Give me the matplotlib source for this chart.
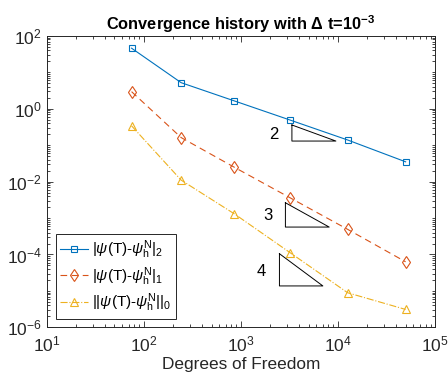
import matplotlib
matplotlib.use("Agg")
import matplotlib.pyplot as plt
from matplotlib.ticker import LogLocator, NullFormatter

plt.rcParams["font.family"] = ["Liberation Sans", "DejaVu Sans"]
plt.rcParams["mathtext.fontset"] = "custom"
plt.rcParams["mathtext.rm"] = "Liberation Sans"
plt.rcParams["mathtext.it"] = "Liberation Sans:italic"
plt.rcParams["mathtext.bf"] = "Liberation Sans:bold"

# data
dof = [75, 243, 860, 3220, 12600, 49800]
err_l2 = [46, 5.2, 1.64, 0.49, 0.139, 0.035]
err_h1 = [2.95, 0.162, 0.0247, 0.0036, 4.9e-4, 6.3e-5]
err_h0 = [0.34, 0.011, 0.0013, 1.12e-4, 8.9e-6, 3.1e-6]
labels = [
    r"$|\psi$(T)-$\psi_\mathrm{h}^\mathrm{N}|_2$",
    r"$|\psi$(T)-$\psi_\mathrm{h}^\mathrm{N}|_1$",
    r"$||\psi$(T)-$\psi_\mathrm{h}^\mathrm{N}||_0$",
]
colors = ["#0072BD", "#D95319", "#EDB120"]

# slope triangles: (x_left, x_right, y_top, y_bottom, label, label_x, label_y)
triangles = [
    (3360, 9530, 0.359, 0.130, "2", 2200, 0.20),
    (2880, 8130, 2.63e-3, 5.66e-4, "3", 1900, 1.15e-3),
    (2500, 7000, 1.05e-4, 1.37e-5, "4", 1620, 3.5e-5),
]

fig = plt.figure(figsize=(4.48, 3.78), dpi=100)
ax = fig.add_axes([0.104, 0.134, 0.867, 0.771])

ax.loglog(dof, err_l2, "-s", color=colors[0], lw=0.8, ms=5,
          mfc="none", mew=0.8, label=labels[0])
ax.loglog(dof, err_h1, "--d", color=colors[1], lw=0.8, ms=6,
          mfc="none", mew=0.8, label=labels[1], dashes=(6, 4))
ax.loglog(dof, err_h0, "-.^", color=colors[2], lw=0.8, ms=6,
          mfc="none", mew=0.8, label=labels[2])

for x0, x1, yt, yb, txt, lx, ly in triangles:
    ax.plot([x0, x0, x1, x0], [yt, yb, yb, yt], color="k", lw=0.7)
    ax.text(lx, ly, txt, fontsize=12, ha="center", va="center")

ax.set_xlim(10, 1e5)
ax.set_ylim(1e-6, 1e2)
ax.set_xticks([1e1, 1e2, 1e3, 1e4, 1e5])
ax.set_yticks([1e-6, 1e-4, 1e-2, 1e0, 1e2])
ax.xaxis.set_minor_locator(LogLocator(base=10, subs=range(2, 10), numticks=20))
ax.yaxis.set_minor_locator(LogLocator(base=10, subs=range(1, 10), numticks=40))
ax.xaxis.set_minor_formatter(NullFormatter())
ax.yaxis.set_minor_formatter(NullFormatter())
ax.tick_params(which="both", direction="in", top=True, right=True,
               colors="#262626", labelsize=12.5, width=0.6)
ax.tick_params(which="major", length=4)
ax.tick_params(which="minor", length=2)
ax.tick_params(axis="x", pad=5)
for s in ax.spines.values():
    s.set_color("#262626")
    s.set_linewidth(0.7)

ax.set_xlabel("Degrees of Freedom", fontsize=12.4, color="#262626", labelpad=2)
ax.set_title(r"Convergence history with $\mathbf{\Delta}$ t=10$^{\mathbf{-3}}$",
             fontsize=11.8, fontweight="bold", pad=4)

leg = ax.legend(loc="lower left", bbox_to_anchor=(0.023, 0.03), fontsize=11,
                fancybox=False, edgecolor="#262626", framealpha=1,
                handlelength=1.8, borderpad=0.3, labelspacing=0.25,
                handletextpad=0.3, borderaxespad=0)
leg.get_frame().set_linewidth(0.7)

fig.savefig("out.png", dpi=100)
